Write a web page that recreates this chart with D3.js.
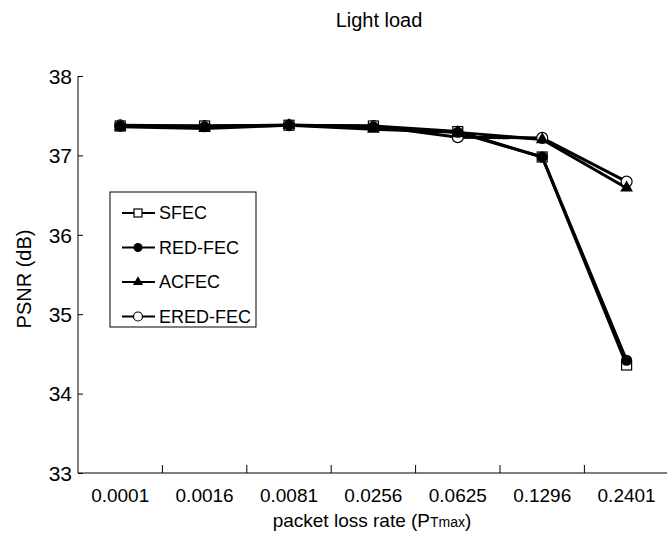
<!DOCTYPE html>
<html>
<head>
<meta charset="utf-8">
<script src="https://cdn.jsdelivr.net/npm/d3@7"></script>
<style>
  body { margin: 0; background: #fff; }
  text { font-family: "Liberation Sans", Arial, sans-serif; fill: #000; }
</style>
</head>
<body>
<div id="chart"></div>
<script>
// packet loss rate categories
var lossRates = ["0.0001", "0.0016", "0.0081", "0.0256", "0.0625", "0.1296", "0.2401"];
var yTicks = [33, 34, 35, 36, 37, 38];

// PSNR (dB) per scheme
var sfec    = [37.37, 37.37, 37.38, 37.37, 37.30, 36.98, 34.36];
var redFec  = [37.37, 37.36, 37.38, 37.36, 37.29, 36.98, 34.42];
var acfec   = [37.36, 37.34, 37.38, 37.33, 37.29, 37.20, 36.59];
var eredFec = [37.38, 37.37, 37.38, 37.37, 37.23, 37.22, 36.67];

var series = [
  {name: "SFEC",     values: sfec,    marker: "square"},
  {name: "RED-FEC",  values: redFec,  marker: "dot"},
  {name: "ACFEC",    values: acfec,   marker: "triangle"},
  {name: "ERED-FEC", values: eredFec, marker: "circle"}
];

var W = 667, H = 537;
var margin = {left: 78, top: 76, bottom: 64};

var svg = d3.select("#chart").append("svg")
  .attr("width", W).attr("height", H);

var x = d3.scaleBand().domain(lossRates).range([margin.left, margin.left + 84.4 * 7]);
var y = d3.scaleLinear().domain([33, 38]).range([H - margin.bottom, margin.top]);

// title
svg.append("text").attr("x", 379).attr("y", 27)
  .attr("text-anchor", "middle").style("font-size", "20px")
  .text("Light load");

// y axis
var yAxis = svg.append("g").attr("transform", "translate(" + margin.left + ",0)")
  .call(d3.axisRight(y).tickValues(yTicks).tickSize(5).tickFormat(d3.format("d")));
yAxis.select(".domain").attr("stroke", "#000").attr("d", "M0," + y(38) + "V" + y(33));
yAxis.selectAll(".tick line").attr("stroke", "#000");
yAxis.selectAll(".tick text").attr("x", -6).attr("dy", "0.35em")
  .attr("text-anchor", "end").style("font-size", "21px");

// x axis: ticks at category boundaries, pointing up
var xAxis = svg.append("g").attr("transform", "translate(0," + y(33) + ")");
xAxis.append("line").attr("x1", margin.left).attr("x2", W)
  .attr("stroke", "#000");
xAxis.selectAll(".xt").data(lossRates.slice(1)).enter().append("line")
  .attr("x1", function(d) { return x(d); }).attr("x2", function(d) { return x(d); })
  .attr("y1", 0).attr("y2", -8).attr("stroke", "#000");
xAxis.selectAll(".xl").data(lossRates).enter().append("text")
  .attr("x", function(d) { return x(d) + x.bandwidth() / 2; })
  .attr("y", 29).attr("text-anchor", "middle").style("font-size", "19px")
  .text(function(d) { return d; });

// axis titles
var xt = svg.append("text").attr("x", 372).attr("y", 527)
  .attr("text-anchor", "middle").style("font-size", "19px");
xt.append("tspan").text("packet loss rate (P");
xt.append("tspan").style("font-size", "14px").text("Tmax");
xt.append("tspan").text(")");

svg.append("text").attr("transform", "translate(31,279) rotate(-90)")
  .attr("text-anchor", "middle").style("font-size", "20px")
  .text("PSNR (dB)");

function cx(d, i) { return x(lossRates[i]) + x.bandwidth() / 2; }

var line = d3.line().x(cx).y(function(d) { return y(d); });

function drawMarker(g, type, px, py, r) {
  if (type === "square") {
    g.append("rect").attr("x", px - r).attr("y", py - r).attr("width", 2 * r).attr("height", 2 * r)
      .attr("fill", "#fff").attr("stroke", "#000").attr("stroke-width", 1.2);
  } else if (type === "dot") {
    g.append("circle").attr("cx", px).attr("cy", py).attr("r", r + 0.5).attr("fill", "#000");
  } else if (type === "triangle") {
    g.append("path").attr("d", d3.symbol().type(d3.symbolTriangle).size(2.8 * r * r)())
      .attr("transform", "translate(" + px + "," + py + ")").attr("fill", "#000");
  } else {
    g.append("circle").attr("cx", px).attr("cy", py).attr("r", r + 0.5)
      .attr("fill", "#fff").attr("stroke", "#000").attr("stroke-width", 1.2);
  }
}

// lines
series.forEach(function(s) {
  svg.append("path").datum(s.values).attr("d", line)
    .attr("fill", "none").attr("stroke", "#000").attr("stroke-width", 3);
});
// markers drawn in order: open ones first, filled on top
["circle", "square", "triangle", "dot"].forEach(function(m) {
  series.filter(function(s) { return s.marker === m; }).forEach(function(s) {
    var g = svg.append("g");
    s.values.forEach(function(v, i) { drawMarker(g, s.marker, cx(v, i), y(v), 5); });
  });
});

// legend
var leg = svg.append("g").attr("transform", "translate(110,192)");
leg.append("rect").attr("width", 146).attr("height", 135)
  .attr("fill", "#fff").attr("stroke", "#000").attr("stroke-width", 1);
series.forEach(function(s, i) {
  var ly = 21 + i * 34.5;
  leg.append("line").attr("x1", 12).attr("x2", 45).attr("y1", ly).attr("y2", ly)
    .attr("stroke", "#000").attr("stroke-width", 2);
  drawMarker(leg, s.marker, 28, ly, 4);
  leg.append("text").attr("x", 49).attr("y", ly).attr("dy", "0.35em")
    .style("font-size", "18px").text(s.name);
});
</script>
</body>
</html>
